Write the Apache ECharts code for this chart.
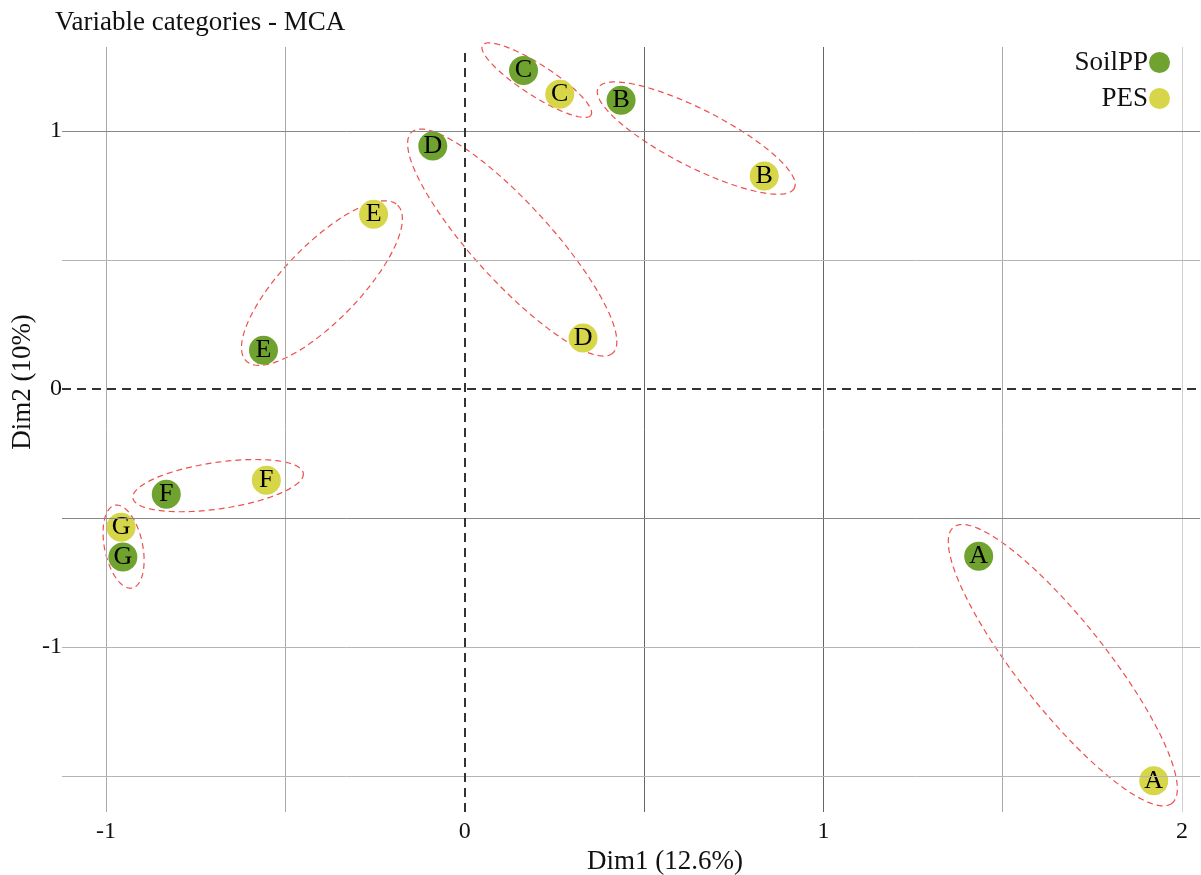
<!DOCTYPE html>
<html>
<head>
<meta charset="utf-8">
<script src="https://cdn.jsdelivr.net/npm/echarts@6/dist/echarts.min.js"></script>
<style>
html,body{margin:0;padding:0;background:#fff;}
#chart{width:1201px;height:875px;}
</style>
</head>
<body>
<div id="chart"></div>
<script>
// ---- data ----
var categories = ['A', 'B', 'C', 'D', 'E', 'F', 'G'];
var soilX = [1.433, 0.436, 0.164, -0.089, -0.561, -0.832, -0.953];
var soilY = [-0.648, 1.120, 1.235, 0.942, 0.151, -0.407, -0.651];
var pesX  = [1.921, 0.835, 0.265, 0.330, -0.254, -0.553, -0.958];
var pesY  = [-1.518, 0.826, 1.143, 0.198, 0.678, -0.353, -0.535];
// confidence ellipses: major-axis end points (x1,y1,x2,y2) and minor/major ratio
var ellipseA = [1.363, -0.535, 1.972, -1.605, 0.25];
var ellipseB = [0.372, 1.167, 0.919, 0.779, 0.26];
var ellipseC = [0.050, 1.333, 0.352, 1.062, 0.24];
var ellipseD = [-0.148, 0.996, 0.413, 0.140, 0.26];
var ellipseE = [-0.609, 0.109, -0.187, 0.713, 0.35];
var ellipseF = [-0.925, -0.422, -0.450, -0.326, 0.27];
var ellipseG = [-0.975, -0.450, -0.927, -0.771, 0.45];
var xTickLabels = [-1, 0, 1, 2];
var yTickLabels = [-1, 0, 1];
var xGrid = [-1, -0.5, 0.5, 1, 1.5, 2];
var yGrid = [-1.5, -1, -0.5, 0.5, 1];

var FONT = "'Liberation Serif', 'Times New Roman', serif";
var GREEN = '#6fa22f';
var YELLOW = '#d6d648';

function pts(xs, ys) {
  return categories.map(function (c, i) { return [xs[i], ys[i], c]; });
}

var gridMarks = [];
xGrid.forEach(function (v) {
  gridMarks.push({ xAxis: v, lineStyle: { color: (v === 0.5 || v === 1) ? '#666' : (v === 2 ? '#d0d0d0' : '#aaa'), width: 1, type: 'solid' } });
});
yGrid.forEach(function (v) {
  gridMarks.push({ yAxis: v, lineStyle: { color: (v === 1 || v === -0.5) ? '#888' : '#b5b5b5', width: 1, type: 'solid' } });
});

var chart = echarts.init(document.getElementById('chart'), null, { renderer: 'canvas' });
chart.setOption({
  animation: false,
  backgroundColor: '#fff',
  textStyle: { fontFamily: FONT },
  title: {
    text: 'Variable categories - MCA',
    left: 55, top: 9, padding: 0,
    textStyle: { fontFamily: FONT, fontSize: 27, fontWeight: 'normal', color: '#111' }
  },
  graphic: [{
    type: 'text', x: 23, y: 382, rotation: Math.PI / 2, silent: true,
    style: { text: 'Dim2 (10%)', font: "27px 'Liberation Serif', serif", fill: '#111', align: 'center', verticalAlign: 'middle' }
  }],
  legend: {
    orient: 'vertical', right: 31, top: 49, padding: 0,
    align: 'right', itemGap: 9, itemWidth: 21, itemHeight: 21,
    icon: 'circle',
    textStyle: { fontFamily: FONT, fontSize: 27, color: '#111', padding: [0, -4, 0, 0] },
    data: ['SoilPP', 'PES']
  },
  grid: { left: 62, right: 1, top: 47, bottom: 63, containLabel: false, outerBoundsMode: 'none' },
  xAxis: {
    type: 'value', min: -1.1227, max: 2.050,
    name: 'Dim1 (12.6%)', nameLocation: 'middle', nameGap: 25,
    nameTextStyle: { fontFamily: FONT, fontSize: 27, color: '#111', padding: [0, 0, 0, 68] },
    axisLine: { show: false }, axisTick: { show: false }, splitLine: { show: false },
    axisLabel: { customValues: xTickLabels, fontFamily: FONT, fontSize: 24, color: '#111', margin: 8 }
  },
  yAxis: {
    type: 'value', min: -1.639, max: 1.326,
    axisLine: { show: false }, axisTick: { show: false }, splitLine: { show: false },
    axisLabel: { customValues: yTickLabels, fontFamily: FONT, fontSize: 24, color: '#111', margin: 0 }
  },
  series: [
    {
      name: 'grid', type: 'scatter', data: [], silent: true, z: 1,
      markLine: { silent: true, symbol: 'none', label: { show: false }, animation: false, data: gridMarks }
    },
    {
      name: 'zero', type: 'scatter', data: [], silent: true, z: 2,
      markLine: {
        silent: true, symbol: 'none', label: { show: false }, animation: false,
        lineStyle: { color: '#333', width: 2, type: [9, 6] },
        data: [{ xAxis: 0 }, { yAxis: 0 }]
      }
    },
    {
      name: 'ellipses', type: 'custom', silent: true, z: 3, clip: false,
      data: [ellipseA, ellipseB, ellipseC, ellipseD, ellipseE, ellipseF, ellipseG],
      encode: { x: [0, 2], y: [1, 3] },
      renderItem: function (params, api) {
        var p1 = api.coord([api.value(0), api.value(1)]);
        var p2 = api.coord([api.value(2), api.value(3)]);
        var r = api.value(4);
        var cx = (p1[0] + p2[0]) / 2, cy = (p1[1] + p2[1]) / 2;
        var ux = (p2[0] - p1[0]) / 2, uy = (p2[1] - p1[1]) / 2;
        var vx = -uy * r, vy = ux * r;
        var points = [];
        var n = 160;
        for (var k = 0; k < n; k++) {
          var t = 2 * Math.PI * k / n;
          points.push([cx + ux * Math.cos(t) + vx * Math.sin(t), cy + uy * Math.cos(t) + vy * Math.sin(t)]);
        }
        return {
          type: 'polygon',
          shape: { points: points },
          style: { fill: 'none', stroke: '#ec3b3b', lineWidth: 1.2, lineDash: [6, 4], opacity: 0.9 }
        };
      }
    },
    {
      name: 'SoilPP', type: 'scatter', z: 4, symbol: 'circle', symbolSize: 29,
      itemStyle: { color: GREEN, opacity: 1 },
      data: pts(soilX, soilY),
      label: { show: true, position: 'inside', formatter: function (p) { return p.value[2]; },
               fontFamily: FONT, fontSize: 26, color: '#000' }
    },
    {
      name: 'PES', type: 'scatter', z: 4, symbol: 'circle', symbolSize: 29,
      itemStyle: { color: YELLOW, opacity: 1 },
      data: pts(pesX, pesY),
      label: { show: true, position: 'inside', formatter: function (p) { return p.value[2]; },
               fontFamily: FONT, fontSize: 26, color: '#000' }
    }
  ]
});
</script>
</body>
</html>
